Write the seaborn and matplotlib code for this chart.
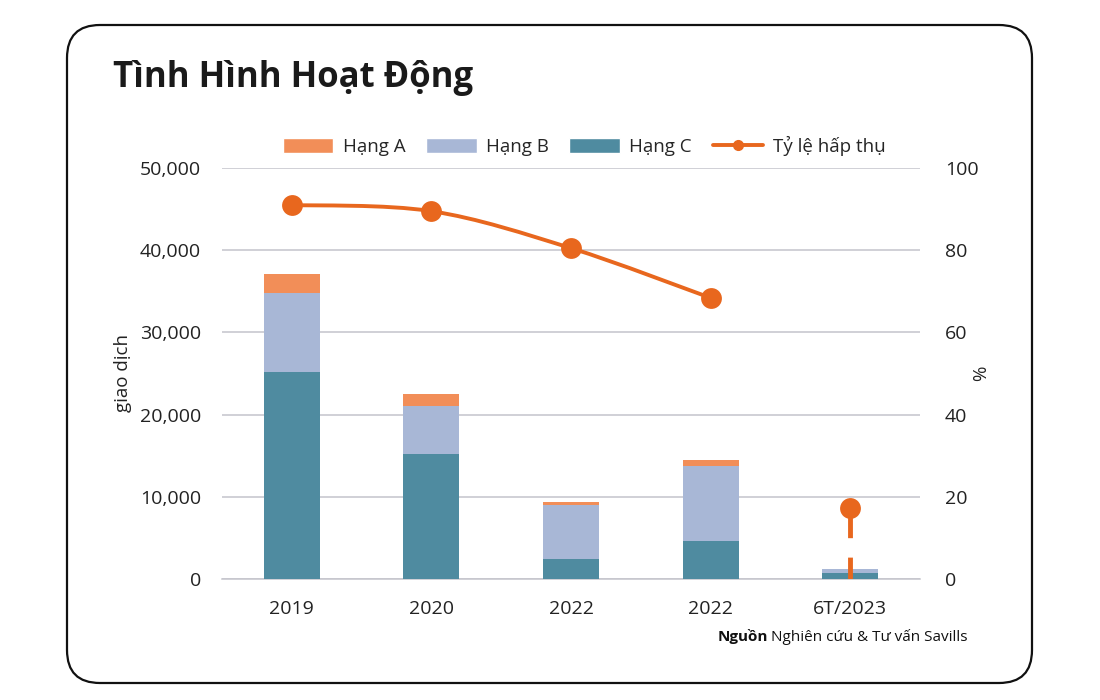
import numpy as np
import pandas as pd
import matplotlib
matplotlib.use("Agg")
import matplotlib.pyplot as plt
from matplotlib.patches import FancyBboxPatch, Patch, PathPatch
from matplotlib.path import Path
from matplotlib.lines import Line2D
from matplotlib.ticker import FuncFormatter, MultipleLocator
import seaborn as sns

# data
categories = ["2019", "2020", "2022", "2022", "6T/2023"]
hang_a = [2300, 1500, 400, 700, 0]
hang_b = [9600, 5800, 6600, 9200, 500]
hang_c = [25200, 15200, 2400, 4600, 700]
ty_le = [91.0, 89.5, 80.5, 68.4, 17.3]

COL_A = "#F28E58"
COL_B = "#A8B7D6"
COL_C = "#4F8BA0"
COL_LINE = "#E8671E"
GRID = "#C4C4CC"
TXT = "#222222"

sns.set_theme(style="white")
plt.rcParams["font.family"] = ["Open Sans", "DejaVu Sans"]

pos = np.arange(len(categories))
df = pd.DataFrame({
    "pos": pos,
    "c": np.array(hang_c),
    "cb": np.array(hang_c) + np.array(hang_b),
    "cba": np.array(hang_c) + np.array(hang_b) + np.array(hang_a),
})

fig = plt.figure(figsize=(11, 7), dpi=100)
fig.patch.set_facecolor("white")

# rounded frame
frame = FancyBboxPatch((67 / 1100, 1 - 683 / 700), (1032 - 67) / 1100, (683 - 25) / 700,
                       boxstyle="round,pad=0,rounding_size=0.03", transform=fig.transFigure,
                       facecolor="none", edgecolor="#111111", linewidth=1.6,
                       mutation_aspect=1100 / 700, zorder=-5)
fig.patches.append(frame)

ax = fig.add_axes([222 / 1100, 1 - 579 / 700, (920 - 222) / 1100, (579 - 168) / 700])
ax.set_facecolor("none")

# stacked bars drawn as layered totals
for col, colour in [("cba", COL_A), ("cb", COL_B), ("c", COL_C)]:
    sns.barplot(data=df, x="pos", y=col, color=colour, width=0.4, ax=ax,
                saturation=1, linewidth=0, zorder=3)

ax.set_xlim(-0.5, len(categories) - 0.5)
ax.set_ylim(0, 50000)
ax.yaxis.set_major_locator(MultipleLocator(10000))
ax.yaxis.set_major_formatter(FuncFormatter(lambda v, p: f"{int(v):,}"))
ax.grid(axis="y", color=GRID, linewidth=1.1, zorder=0)
ax.set_axisbelow(True)
ax.set_xticks(pos)
ax.set_xticklabels(categories)
ax.set_xticks(np.arange(-0.5, len(categories), 1), minor=True)
ax.tick_params(axis="x", which="major", length=0, pad=15, labelsize=14, colors=TXT)
ax.tick_params(axis="x", which="minor", length=8, width=1, color=GRID, direction="out")
ax.tick_params(axis="y", length=0, pad=15, labelsize=14, colors=TXT)
ax.set_xlabel("")
ax.set_ylabel("giao dịch", fontsize=13.5, color=TXT, labelpad=6)
for s in ["top", "left", "right"]:
    ax.spines[s].set_visible(False)
ax.spines["bottom"].set_color(GRID)
ax.spines["bottom"].set_linewidth(1.1)

# absorption rate on a second axis
ax2 = ax.twinx()
line_df = pd.DataFrame({"pos": pos[:4], "rate": ty_le[:4]})
sns.lineplot(data=line_df, x="pos", y="rate", ax=ax2, color=COL_LINE, linewidth=0,
             marker="o", markersize=15, markeredgewidth=0, zorder=6)

# smoothed connecting curve (Catmull-Rom through the data points)
px = np.array(line_df["pos"], dtype=float)
py = np.array(line_df["rate"], dtype=float)
verts = [(px[0], py[0])]
codes = [Path.MOVETO]
n = len(px)
for i in range(n - 1):
    i0, i2, i3 = max(i - 1, 0), i + 1, min(i + 2, n - 1)
    c1 = (px[i] + (px[i2] - px[i0]) / 6, py[i] + (py[i2] - py[i0]) / 6)
    c2 = (px[i2] - (px[i3] - px[i]) / 6, py[i2] - (py[i3] - py[i]) / 6)
    verts += [c1, c2, (px[i2], py[i2])]
    codes += [Path.CURVE4] * 3
ax2.add_patch(PathPatch(Path(verts, codes), facecolor="none", edgecolor=COL_LINE,
                        linewidth=2.8, zorder=5))

ax2.plot(pos[4], ty_le[4], "o", color=COL_LINE, markersize=15, markeredgewidth=0, zorder=6)
ax2.vlines(pos[4], 0, ty_le[4], color=COL_LINE, linewidth=3.5, linestyles=(0, (4.5, 4)), zorder=4)
ax2.set_ylim(0, 100)
ax2.yaxis.set_major_locator(MultipleLocator(20))
ax2.tick_params(axis="y", length=0, pad=18, labelsize=14, colors=TXT)
ax2.set_ylabel("%", fontsize=13.5, color=TXT, labelpad=-5)
ax2.set_xlabel("")
for s in ax2.spines.values():
    s.set_visible(False)
ax2.set_xlim(-0.5, len(categories) - 0.5)

# legend
handles = [
    Patch(facecolor=COL_A, label="Hạng A"),
    Patch(facecolor=COL_B, label="Hạng B"),
    Patch(facecolor=COL_C, label="Hạng C"),
    Line2D([0], [0], color=COL_LINE, linewidth=2.8, marker="o", markersize=7, label="Tỷ lệ hấp thụ"),
]
fig.legend(handles=handles, loc="center", bbox_to_anchor=(584 / 1100, 1 - 146 / 700), ncol=4,
           frameon=False, fontsize=13.5, handlelength=2.7, handleheight=0.9,
           columnspacing=1.1, handletextpad=0.5)

fig.text(113 / 1100, 1 - 78 / 700, "Tình Hình Hoạt Động", fontsize=25, fontweight="bold",
         color="#1a1a1a", va="center", ha="left")

fig.text(768 / 1100, 1 - 637 / 700, "Nguồn", fontsize=11, fontweight="bold",
         color="#111111", ha="right", va="center")
fig.text(771 / 1100, 1 - 637 / 700, "Nghiên cứu & Tư vấn Savills", fontsize=11,
         color="#111111", ha="left", va="center")

fig.savefig("out.png", dpi=100, facecolor="white")
